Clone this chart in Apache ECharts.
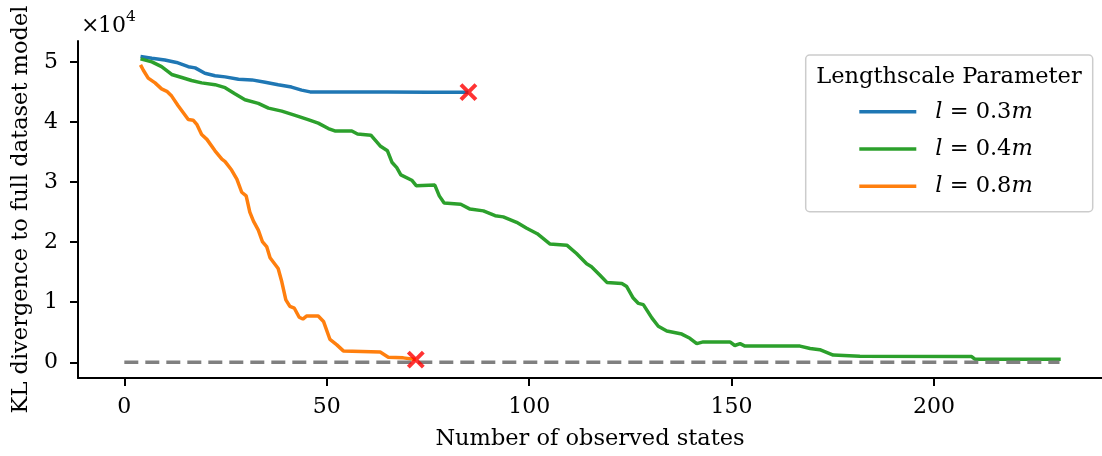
<!DOCTYPE html>
<html>
<head>
<meta charset="utf-8">
<script src="https://cdn.jsdelivr.net/npm/echarts@6/dist/echarts.min.js"></script>
<style>
html,body{margin:0;padding:0;background:#fff;}
#chart{width:1102px;height:456px;}
</style>
</head>
<body>
<div id="chart"></div>
<script>
// values in units of 10^4
const xTicks = [0, 50, 100, 150, 200];
const yTicks = [0, 1, 2, 3, 4, 5];
const seriesNames = ['l = 0.3m', 'l = 0.4m', 'l = 0.8m'];

const blueX = [4, 6.8, 10, 12.9, 15.8, 17.5, 19.9, 22.4, 24.9, 28.2, 31.5, 34.8, 38.0, 41.3, 43.8, 45.9, 55, 65, 75, 85];
const blueY = [5.09, 5.06, 5.03, 4.99, 4.92, 4.90, 4.81, 4.77, 4.75, 4.71, 4.70, 4.66, 4.62, 4.58, 4.53, 4.50, 4.50, 4.50, 4.495, 4.495];

const greenX = [4, 6.8, 9.2, 11.7, 14.2, 16.6, 19.1, 22.4, 24.9, 27.3, 29.8, 33.1, 35.6, 38.9, 42.2, 45.4, 47.9, 50.4, 52.0, 56.2, 57.6, 60.9, 63.2, 65.0, 66.1, 67.3, 68.3, 71.0, 72.1, 76.7, 77.8, 79.0, 83.1, 85.4, 88.7, 91.6, 93.6, 96.9, 99.4, 102.0, 105.1, 109.3, 111.7, 114.2, 115.4, 117.5, 119.2, 122.9, 124.1, 125.7, 127.0, 128.2, 130.3, 131.9, 134.0, 137.7, 139.7, 141.4, 143.0, 149.6, 150.8, 152.1, 153.3, 166.9, 169.4, 171.8, 175.1, 181.7, 209.3, 210.1, 231.3];
const greenY = [5.05, 5.00, 4.92, 4.79, 4.74, 4.69, 4.65, 4.62, 4.57, 4.47, 4.37, 4.31, 4.23, 4.18, 4.11, 4.04, 3.98, 3.89, 3.85, 3.85, 3.80, 3.78, 3.60, 3.52, 3.33, 3.24, 3.12, 3.03, 2.94, 2.95, 2.77, 2.65, 2.63, 2.55, 2.52, 2.44, 2.42, 2.33, 2.23, 2.14, 1.97, 1.95, 1.81, 1.64, 1.59, 1.45, 1.33, 1.31, 1.26, 1.07, 0.98, 0.96, 0.74, 0.60, 0.52, 0.47, 0.40, 0.31, 0.34, 0.34, 0.28, 0.31, 0.27, 0.27, 0.23, 0.21, 0.12, 0.10, 0.096, 0.053, 0.053];

const orangeX = [4, 4.7, 5.9, 7.6, 9.2, 10.5, 11.7, 13.3, 15.8, 17.0, 17.9, 19.1, 20.4, 22.4, 24.1, 24.9, 26.5, 27.8, 29.0, 30.1, 31.0, 31.9, 33.1, 34.1, 35.2, 36.0, 38.0, 38.9, 39.9, 40.9, 42.0, 43.2, 44.1, 45.0, 47.9, 49.2, 50.8, 52.5, 54.1, 63.2, 65.2, 68.9, 72];
const orangeY = [4.95, 4.86, 4.73, 4.65, 4.55, 4.51, 4.43, 4.27, 4.04, 4.03, 3.96, 3.79, 3.71, 3.52, 3.38, 3.34, 3.20, 3.05, 2.83, 2.77, 2.50, 2.35, 2.20, 2.01, 1.92, 1.74, 1.56, 1.34, 1.04, 0.93, 0.90, 0.75, 0.72, 0.77, 0.77, 0.68, 0.38, 0.29, 0.19, 0.17, 0.086, 0.074, 0.046];

const refX = [0, 231];
const refY = [0, 0];

const zip = (xs, ys) => xs.map((x, i) => [x, ys[i]]);
const last = (xs, ys) => [xs[xs.length - 1], ys[ys.length - 1]];

const FONT = 'DejaVu Serif';
const chart = echarts.init(document.getElementById('chart'), null, {renderer: 'canvas'});

const legendRich = {
  i: {fontFamily: FONT, fontStyle: 'italic', fontSize: 22.5, color: '#000', lineHeight: 24}
};

chart.setOption({
  animation: false,
  backgroundColor: '#ffffff',
  grid: {left: 78, right: 0, top: 41, bottom: 75.7, containLabel: false},
  xAxis: {
    type: 'value',
    min: -11.44, max: 241.5,
    name: 'Number of observed states',
    nameLocation: 'middle',
    nameGap: 50,
    nameTextStyle: {fontFamily: FONT, fontSize: 22.5, color: '#000'},
    axisLine: {show: true, onZero: false, lineStyle: {color: '#000', width: 2}},
    axisTick: {show: true, customValues: xTicks, length: 8, lineStyle: {color: '#000', width: 2}},
    axisLabel: {customValues: xTicks, margin: 18, fontFamily: FONT, fontSize: 22, color: '#000'},
    splitLine: {show: false}
  },
  yAxis: {
    type: 'value',
    min: -0.261, max: 5.347,
    name: 'KL divergence to full dataset model',
    nameLocation: 'middle',
    nameGap: 40,
    nameRotate: 90,
    nameTextStyle: {fontFamily: FONT, fontSize: 22.5, color: '#000'},
    axisLine: {show: true, onZero: false, lineStyle: {color: '#000', width: 2}},
    axisTick: {show: true, customValues: yTicks, length: 8, lineStyle: {color: '#000', width: 2}},
    axisLabel: {customValues: yTicks, margin: 20, fontFamily: FONT, fontSize: 22, color: '#000'},
    splitLine: {show: false}
  },
  legend: {
    data: seriesNames,
    orient: 'vertical',
    left: 859.3, top: 99.7,
    padding: 0,
    itemGap: 13.3,
    itemWidth: 57, itemHeight: 3.5,
    icon: 'rect',
    formatter: function (name) {
      return '{i|l} = ' + name.slice(4, 7) + '{i|m}';
    },
    textStyle: {fontFamily: FONT, fontSize: 22.5, color: '#000', lineHeight: 24, padding: [0, 0, 0, 14], rich: legendRich}
  },
  graphic: [
    {type: 'rect', z: 1, shape: {x: 805.7, y: 55, width: 287, height: 156.7, r: 4},
     style: {fill: 'rgba(255,255,255,0.8)', stroke: '#cccccc', lineWidth: 1.5}},
    {type: 'text', z: 2, x: 949, y: 76.7,
     style: {text: 'Lengthscale Parameter', fontFamily: FONT, fontSize: 22.5, fill: '#000', align: 'center', verticalAlign: 'middle'}},
    {type: 'text', x: 81, y: 26,
     style: {text: '×', fontFamily: FONT, fontSize: 22, fill: '#000', align: 'left', verticalAlign: 'middle'}},
    {type: 'text', x: 98, y: 26,
     style: {text: '10', fontFamily: FONT, fontSize: 22, fill: '#000', align: 'left', verticalAlign: 'middle'}},
    {type: 'text', x: 126, y: 17,
     style: {text: '4', fontFamily: FONT, fontSize: 15.5, fill: '#000', align: 'left', verticalAlign: 'middle'}}
  ],
  series: [
    {name: seriesNames[0], type: 'line', data: zip(blueX, blueY), showSymbol: false, color: '#1f77b4',
     lineStyle: {width: 3.5, color: '#1f77b4'}, z: 2},
    {name: seriesNames[1], type: 'line', data: zip(greenX, greenY), showSymbol: false, color: '#2ca02c',
     lineStyle: {width: 3.5, color: '#2ca02c'}, z: 2},
    {name: seriesNames[2], type: 'line', data: zip(orangeX, orangeY), showSymbol: false, color: '#ff7f0e',
     lineStyle: {width: 3.5, color: '#ff7f0e'}, z: 2},
    {name: 'zero', type: 'line', data: zip(refX, refY), showSymbol: false, color: '#808080',
     lineStyle: {width: 3.5, color: '#808080', type: [14, 7]}, z: 3},
    {name: 'end', type: 'scatter', data: [last(blueX, blueY), last(orangeX, orangeY)],
     symbol: 'path://M0,0L10,10M10,0L0,10', symbolSize: 15,
     itemStyle: {color: 'none', borderColor: '#ff0000', borderWidth: 4}, z: 4}
  ]
});
</script>
</body>
</html>
